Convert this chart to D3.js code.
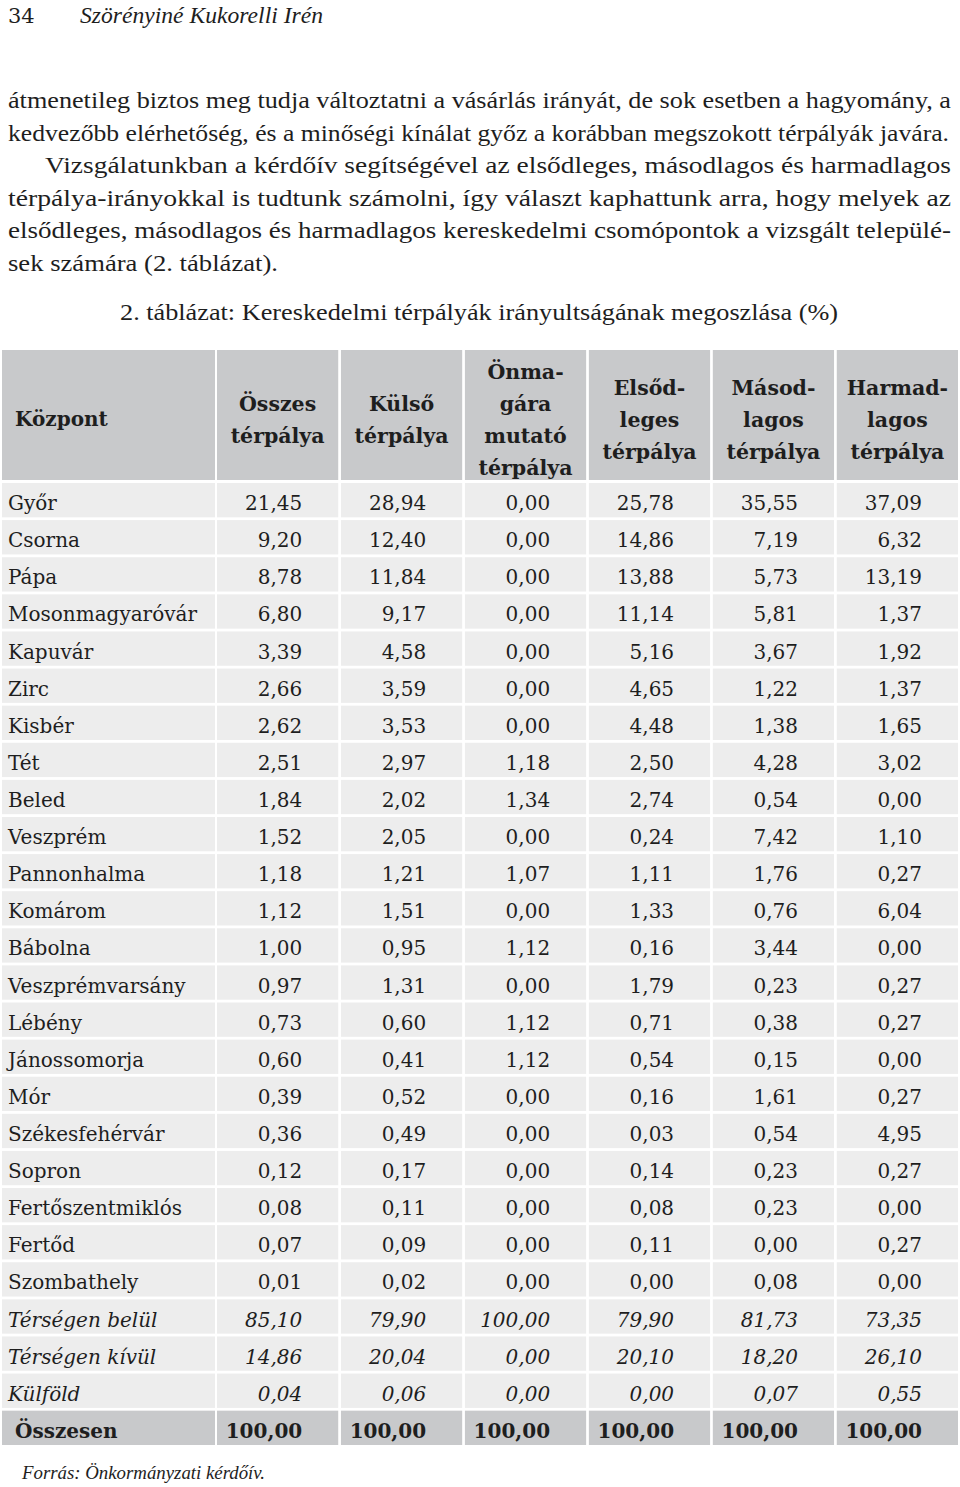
<!DOCTYPE html>
<html>
<head>
<meta charset="utf-8">
<script src="https://cdn.jsdelivr.net/npm/d3@7"></script>
<style>
  body { margin: 0; background: #fff; }
  svg { display: block; }
</style>
</head>
<body>
<svg width="960" height="1487"></svg>
<script>
// table data
var centers = ["Győr","Csorna","Pápa","Mosonmagyaróvár","Kapuvár","Zirc","Kisbér","Tét","Beled","Veszprém","Pannonhalma","Komárom","Bábolna","Veszprémvarsány","Lébény","Jánossomorja","Mór","Székesfehérvár","Sopron","Fertőszentmiklós","Fertőd","Szombathely"];
var osszes = [21.45,9.20,8.78,6.80,3.39,2.66,2.62,2.51,1.84,1.52,1.18,1.12,1.00,0.97,0.73,0.60,0.39,0.36,0.12,0.08,0.07,0.01];
var kulso = [28.94,12.40,11.84,9.17,4.58,3.59,3.53,2.97,2.02,2.05,1.21,1.51,0.95,1.31,0.60,0.41,0.52,0.49,0.17,0.11,0.09,0.02];
var onmagara = [0,0,0,0,0,0,0,1.18,1.34,0,1.07,0,1.12,0,1.12,1.12,0,0,0,0,0,0];
var elsodleges = [25.78,14.86,13.88,11.14,5.16,4.65,4.48,2.50,2.74,0.24,1.11,1.33,0.16,1.79,0.71,0.54,0.16,0.03,0.14,0.08,0.11,0.00];
var masodlagos = [35.55,7.19,5.73,5.81,3.67,1.22,1.38,4.28,0.54,7.42,1.76,0.76,3.44,0.23,0.38,0.15,1.61,0.54,0.23,0.23,0.00,0.08];
var harmadlagos = [37.09,6.32,13.19,1.37,1.92,1.37,1.65,3.02,0.00,1.10,0.27,6.04,0.00,0.27,0.27,0.00,0.27,4.95,0.27,0.00,0.27,0.00];

var regions = ["Térségen belül","Térségen kívül","Külföld"];
var belul = [85.10,79.90,100.00,79.90,81.73,73.35];
var kivul = [14.86,20.04,0.00,20.10,18.20,26.10];
var kulfold = [0.04,0.06,0.00,0.00,0.07,0.55];
var totalLabel = "Összesen";
var total = [100,100,100,100,100,100];

var firstHead = "Központ";
var columnHeads = [["Összes","térpálya"],["Külső","térpálya"],["Önma-","gára","mutató","térpálya"],["Elsőd-","leges","térpálya"],["Másod-","lagos","térpálya"],["Harmad-","lagos","térpálya"]];

var pageNo = "34";
var author = "Szörényiné Kukorelli Irén";
var paragraph = [
  "átmenetileg biztos meg tudja változtatni a vásárlás irányát, de sok esetben a hagyomány, a",
  "kedvezőbb elérhetőség, és a minőségi kínálat győz a korábban megszokott térpályák javára.",
  "Vizsgálatunkban a kérdőív segítségével az elsődleges, másodlagos és harmadlagos",
  "térpálya-irányokkal is tudtunk számolni, így választ kaphattunk arra, hogy melyek az",
  "elsődleges, másodlagos és harmadlagos kereskedelmi csomópontok a vizsgált települé-",
  "sek számára (2. táblázat)."
];
var caption = "2. táblázat: Kereskedelmi térpályák irányultságának megoszlása (%)";
var source = "Forrás: Önkormányzati kérdőív.";

var serif = "'DejaVu Serif', serif";
var bodySerif = "'Liberation Serif', serif";
var ink = "#1e1e1e";

var svg = d3.select('svg');
var fmt = d3.formatLocale({decimal: ",", thousands: " ", grouping: [3], currency: ["", ""]}).format(".2f");

// build rows
var rows = centers.map(function(c, i){
  return {label: c, style: "normal", vals: [osszes[i], kulso[i], onmagara[i], elsodleges[i], masodlagos[i], harmadlagos[i]]};
});
[belul, kivul, kulfold].forEach(function(v, i){
  rows.push({label: regions[i], style: "italic", vals: v});
});
rows.push({label: totalLabel, style: "total", vals: total});

// page header
svg.append('text').attr('x', 8).attr('y', 23)
  .attr('font-family', serif).attr('font-size', 21).attr('fill', ink)
  .text(pageNo);
svg.append('text').attr('x', 80).attr('y', 23)
  .attr('font-family', bodySerif).attr('font-size', 23).attr('font-style', 'italic').attr('fill', ink)
  .attr('textLength', 243).attr('lengthAdjust', 'spacingAndGlyphs')
  .text(author);

// paragraph
var lineY = d3.scaleLinear().domain([0, 5]).range([108, 271]);
svg.selectAll('.para')
  .data(paragraph)
  .enter()
  .append('text')
  .attr('class', 'para')
  .attr('x', function(d, i){ return i == 2 ? 45 : 8; })
  .attr('y', function(d, i){ return lineY(i); })
  .attr('font-family', bodySerif).attr('font-size', 23).attr('fill', ink)
  .attr('textLength', function(d, i){
    if (i == 5) return 270;
    if (i == 2) return 906;
    if (i == 1) return 941;
    return 943;
  })
  .attr('lengthAdjust', 'spacingAndGlyphs')
  .text(function(d){ return d; });

// caption
svg.append('text').attr('x', 120).attr('y', 320)
  .attr('font-family', bodySerif).attr('font-size', 23).attr('fill', ink)
  .attr('textLength', 718).attr('lengthAdjust', 'spacingAndGlyphs')
  .text(caption);

// scales
var colX = d3.scaleBand().domain(d3.range(6)).range([217, 958]).paddingInner(0.022);
var rowY = d3.scaleBand().domain(d3.range(rows.length)).range([483, 1445]).paddingInner(0.075);
var labelX0 = 2, labelX1 = 215;
var headTop = 350, headBottom = 480;
var headBg = "#c8c9cb", rowBg = "#ededed";

// header cells
svg.append('rect').attr('x', labelX0).attr('y', headTop)
  .attr('width', labelX1 - labelX0).attr('height', headBottom - headTop).attr('fill', headBg);
svg.selectAll('.headCell')
  .data(columnHeads)
  .enter()
  .append('rect')
  .attr('class', 'headCell')
  .attr('x', function(d, i){ return colX(i); })
  .attr('y', headTop)
  .attr('width', colX.bandwidth())
  .attr('height', headBottom - headTop)
  .attr('fill', headBg);

svg.append('text').attr('x', 15).attr('y', 418.5)
  .attr('dominant-baseline', 'central')
  .attr('font-family', serif).attr('font-size', 20).attr('font-weight', 'bold').attr('fill', ink)
  .text(firstHead);

var headLine = 31.7;
columnHeads.forEach(function(lines, i){
  var cx = colX(i) + colX.bandwidth() / 2;
  var start = 420 - (lines.length - 1) * headLine / 2;
  svg.selectAll('.head' + i)
    .data(lines)
    .enter()
    .append('text')
    .attr('x', cx)
    .attr('y', function(d, j){ return start + j * headLine; })
    .attr('text-anchor', 'middle')
    .attr('dominant-baseline', 'central')
    .attr('font-family', serif).attr('font-size', 20.5).attr('font-weight', 'bold').attr('fill', ink)
    .text(function(d){ return d; });
});

// body rows
var rowG = svg.selectAll('.row')
  .data(rows)
  .enter()
  .append('g')
  .attr('class', 'row')
  .attr('transform', function(d, i){ return 'translate(0,' + rowY(i) + ')'; });

rowG.append('rect')
  .attr('x', labelX0).attr('y', 0)
  .attr('width', labelX1 - labelX0).attr('height', rowY.bandwidth())
  .attr('fill', function(d){ return d.style == "total" ? headBg : rowBg; });

rowG.selectAll('.cell')
  .data(function(d){ return d.vals.map(function(v){ return {v: v, style: d.style}; }); })
  .enter()
  .append('rect')
  .attr('class', 'cell')
  .attr('x', function(d, i){ return colX(i); })
  .attr('y', 0)
  .attr('width', colX.bandwidth())
  .attr('height', rowY.bandwidth())
  .attr('fill', function(d){ return d.style == "total" ? headBg : rowBg; });

rowG.append('text')
  .attr('x', function(d){ return d.style == "total" ? 15 : 8; })
  .attr('y', rowY.bandwidth() / 2 + 3)
  .attr('dominant-baseline', 'central')
  .attr('font-family', serif).attr('font-size', 20).attr('fill', ink)
  .attr('font-style', function(d){ return d.style == "italic" ? 'italic' : 'normal'; })
  .attr('font-weight', function(d){ return d.style == "total" ? 'bold' : 'normal'; })
  .text(function(d){ return d.label; });

rowG.selectAll('.num')
  .data(function(d){ return d.vals.map(function(v){ return {v: v, style: d.style}; }); })
  .enter()
  .append('text')
  .attr('class', 'num')
  .attr('x', function(d, i){ return colX(i) + colX.bandwidth() - 36; })
  .attr('y', rowY.bandwidth() / 2 + 3)
  .attr('text-anchor', 'end')
  .attr('dominant-baseline', 'central')
  .attr('font-family', serif).attr('font-size', 20).attr('fill', ink)
  .attr('font-style', function(d){ return d.style == "italic" ? 'italic' : 'normal'; })
  .attr('font-weight', function(d){ return d.style == "total" ? 'bold' : 'normal'; })
  .text(function(d){ return fmt(d.v); });

// source
svg.append('text').attr('x', 22).attr('y', 1479)
  .attr('font-family', bodySerif).attr('font-size', 19).attr('font-style', 'italic').attr('fill', ink)
  .attr('textLength', 243).attr('lengthAdjust', 'spacingAndGlyphs')
  .text(source);
</script>
</body>
</html>
